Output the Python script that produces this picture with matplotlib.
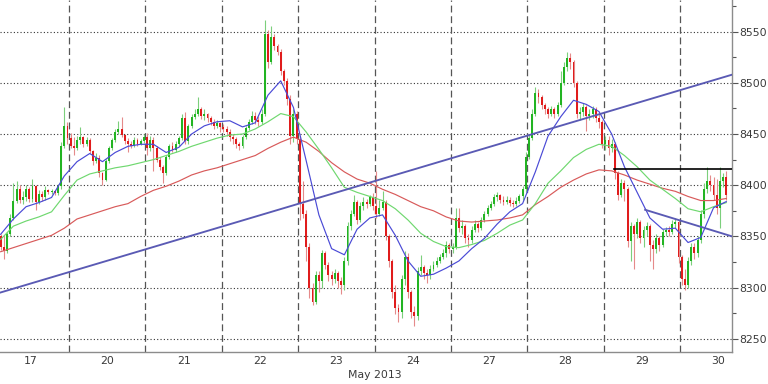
#!/usr/bin/env python3
# -*- coding: utf-8 -*-
"""
Hourly candlestick chart, May 2013, with three moving averages
and hand-drawn trend lines.
"""

import numpy as np
import matplotlib
matplotlib.use("Agg")
import matplotlib.pyplot as plt
from matplotlib.ticker import MultipleLocator
from matplotlib.transforms import blended_transform_factory

# hourly candles, 24 per day; the 17th is only partly on the chart (22 bars)
day_labels = ['17', '20', '21', '22', '23', '24', '27', '28', '29', '30']
bars_per_day = 24
bars_first_day = 22
first_open = 8350

closes = [
    # 17
    8340, 8336, 8352, 8368, 8385, 8396, 8386, 8388, 8396, 8387, 8399, 8384, 8391, 8388, 8395, 8393, 8394, 8392, 8399, 8438, 8458, 8446,
    # 20
    8438, 8436, 8444, 8447, 8440, 8444, 8433, 8424, 8427, 8412, 8405, 8424, 8436, 8444, 8452, 8455, 8449, 8443, 8440, 8438, 8444, 8440, 8443, 8447,
    # 21
    8436, 8444, 8436, 8425, 8418, 8412, 8428, 8438, 8434, 8440, 8446, 8466, 8443, 8458, 8467, 8470, 8474, 8468, 8470, 8466, 8462, 8458, 8461, 8457,
    # 22
    8455, 8452, 8447, 8445, 8440, 8438, 8447, 8456, 8462, 8468, 8464, 8462, 8470, 8548, 8520, 8545, 8536, 8530, 8512, 8502, 8484, 8448, 8470, 8445,
    # 23
    8382, 8372, 8340, 8300, 8286, 8312, 8306, 8334, 8322, 8312, 8308, 8314, 8306, 8302, 8326, 8360, 8372, 8384, 8366, 8380, 8384, 8382, 8388, 8380,
    # 24
    8372, 8378, 8384, 8350, 8326, 8296, 8280, 8276, 8308, 8330, 8296, 8276, 8272, 8316, 8320, 8314, 8312, 8318, 8322, 8326, 8330, 8334, 8342, 8338,
    # 27
    8340, 8368, 8358, 8360, 8348, 8346, 8356, 8362, 8358, 8366, 8372, 8378, 8382, 8388, 8390, 8386, 8384, 8386, 8383, 8382, 8385, 8389, 8396, 8428,
    # 28
    8446, 8470, 8490, 8486, 8478, 8474, 8470, 8474, 8470, 8478, 8500, 8516, 8524, 8520, 8500, 8470, 8472, 8476, 8468, 8470, 8474, 8466, 8462, 8440,
    # 29
    8444, 8436, 8440, 8412, 8390, 8402, 8396, 8345, 8360, 8352, 8364, 8348, 8356, 8360, 8342, 8338, 8348, 8342, 8354, 8356, 8354, 8362, 8364, 8330,
    # 30
    8308, 8302, 8326, 8340, 8334, 8346, 8372, 8396, 8404, 8400, 8390, 8378, 8404, 8408, 8390,
]

highs = [
    8352, 8351, 8354, 8372, 8402, 8404, 8400, 8394, 8400, 8398, 8406, 8400, 8395, 8394, 8399, 8396, 8396, 8395, 8401, 8442, 8476, 8462,
    8451, 8447, 8448, 8457, 8448, 8447, 8446, 8434, 8431, 8430, 8413, 8426, 8438, 8446, 8455, 8463, 8467, 8450, 8446, 8443, 8447, 8446, 8445, 8450,
    8451, 8448, 8447, 8438, 8428, 8420, 8430, 8440, 8442, 8443, 8448, 8470, 8472, 8460, 8470, 8474, 8486, 8476, 8474, 8471, 8468, 8465, 8464, 8462,
    8460, 8458, 8455, 8450, 8447, 8442, 8449, 8458, 8465, 8473, 8472, 8468, 8474, 8561, 8552, 8556, 8548, 8538, 8533, 8514, 8505, 8488, 8474, 8473,
    8448, 8404, 8376, 8344, 8304, 8316, 8316, 8337, 8336, 8325, 8316, 8318, 8316, 8310, 8330, 8364, 8376, 8390, 8386, 8384, 8388, 8387, 8390, 8392,
    8414, 8386, 8394, 8386, 8352, 8328, 8302, 8284, 8312, 8336, 8334, 8298, 8282, 8320, 8332, 8322, 8318, 8322, 8326, 8330, 8333, 8338, 8345, 8344,
    8344, 8378, 8378, 8366, 8362, 8352, 8360, 8366, 8364, 8369, 8375, 8381, 8385, 8391, 8393, 8391, 8389, 8389, 8388, 8386, 8388, 8391, 8399, 8432,
    8450, 8474, 8496, 8494, 8488, 8480, 8476, 8477, 8476, 8481, 8512, 8520, 8530, 8529, 8522, 8502, 8476, 8480, 8478, 8474, 8477, 8476, 8470, 8464,
    8448, 8448, 8445, 8442, 8414, 8406, 8405, 8398, 8364, 8362, 8368, 8366, 8360, 8364, 8362, 8346, 8352, 8350, 8357, 8359, 8360, 8366, 8368, 8366,
    8332, 8318, 8330, 8344, 8344, 8350, 8376, 8402, 8418, 8410, 8408, 8406, 8418, 8412, 8414,
]

lows = [
    8337, 8328, 8334, 8350, 8366, 8383, 8383, 8382, 8385, 8384, 8384, 8376, 8382, 8385, 8386, 8391, 8391, 8390, 8390, 8396, 8436, 8440,
    8436, 8430, 8434, 8440, 8437, 8438, 8431, 8420, 8422, 8408, 8400, 8404, 8422, 8434, 8442, 8450, 8447, 8440, 8432, 8436, 8437, 8438, 8439, 8441,
    8430, 8433, 8414, 8423, 8415, 8402, 8410, 8426, 8432, 8432, 8438, 8444, 8440, 8440, 8456, 8465, 8468, 8465, 8464, 8462, 8459, 8455, 8456, 8452,
    8452, 8448, 8443, 8440, 8436, 8434, 8436, 8445, 8454, 8460, 8460, 8458, 8460, 8468, 8515, 8518, 8532, 8527, 8508, 8498, 8478, 8440, 8442, 8440,
    8366, 8368, 8326, 8290, 8283, 8284, 8296, 8300, 8318, 8306, 8302, 8304, 8300, 8294, 8298, 8322, 8356, 8370, 8362, 8364, 8376, 8378, 8380, 8376,
    8368, 8370, 8376, 8346, 8320, 8290, 8274, 8266, 8270, 8302, 8290, 8270, 8262, 8268, 8312, 8308, 8304, 8308, 8316, 8320, 8324, 8328, 8330, 8334,
    8334, 8338, 8354, 8352, 8344, 8340, 8344, 8354, 8354, 8356, 8364, 8370, 8376, 8380, 8385, 8383, 8381, 8382, 8380, 8379, 8380, 8383, 8386, 8393,
    8426, 8444, 8468, 8480, 8474, 8470, 8466, 8468, 8466, 8468, 8476, 8498, 8512, 8514, 8496, 8466, 8464, 8468, 8453, 8464, 8466, 8462, 8456, 8436,
    8434, 8430, 8432, 8406, 8386, 8388, 8385, 8340, 8326, 8318, 8348, 8344, 8340, 8350, 8326, 8318, 8334, 8336, 8340, 8350, 8350, 8352, 8358, 8324,
    8302, 8298, 8300, 8322, 8328, 8330, 8344, 8368, 8392, 8394, 8386, 8372, 8358, 8398, 8386,
]

# moving averages, one value every 4 bars from the first bar
ma_step = 4
ma_fast = [8352, 8367, 8379, 8383, 8388, 8409, 8423, 8431, 8423, 8432, 8438, 8440, 8440, 8432, 8437, 8450,
           8458, 8462, 8463, 8457, 8461, 8488, 8502, 8476, 8424, 8371, 8338, 8332, 8357, 8368, 8371, 8351,
           8326, 8311, 8313, 8319, 8326, 8338, 8348, 8362, 8374, 8382, 8413, 8448, 8467, 8483, 8479, 8472,
           8450, 8418, 8393, 8368, 8357, 8358, 8344, 8349, 8378, 8384]
ma_mid = [8347, 8360, 8365, 8369, 8374, 8390, 8405, 8411, 8414, 8417, 8419, 8422, 8425, 8429, 8433, 8438,
          8442, 8446, 8449, 8450, 8455, 8462, 8470, 8467, 8452, 8435, 8417, 8398, 8393, 8389, 8385, 8377,
          8366, 8353, 8345, 8340, 8339, 8342, 8346, 8353, 8361, 8366, 8382, 8402, 8414, 8427, 8435, 8440,
          8438, 8429, 8418, 8405, 8396, 8387, 8377, 8374, 8379, 8383]
ma_slow = [8335, 8339, 8343, 8347, 8351, 8358, 8367, 8371, 8375, 8379, 8382, 8389, 8395, 8399, 8404, 8410,
           8414, 8417, 8421, 8425, 8429, 8436, 8442, 8447, 8442, 8433, 8422, 8413, 8406, 8402, 8396, 8391,
           8385, 8379, 8375, 8369, 8365, 8364, 8365, 8366, 8368, 8371, 8381, 8389, 8398, 8405, 8411, 8415,
           8414, 8410, 8405, 8401, 8397, 8394, 8389, 8385, 8385, 8387]

# drawn lines: bar positions (0 = first bar of the 20th) and prices
trend_long_x = [-22.2, 207.8]
trend_long_y = [8295, 8508]
trend_short_x = [180.5, 207.8]
trend_short_y = [8376, 8350]
resistance_x = [170.7, 207.8]
resistance_y = [8416, 8416]

GREEN = '#22b422'
RED = '#e01c1c'
GREEN_WICK = '#7ccf7c'
RED_WICK = '#e58a8a'


def draw_candles(ax, x, opens, highs, lows, closes, width=0.6):
    """Draw OHLC candles: thin wicks, solid bodies."""
    up = closes >= opens
    wick_col = np.where(up, GREEN_WICK, RED_WICK)
    body_col = np.where(up, GREEN, RED)
    ax.vlines(x, lows, highs, colors=wick_col, linewidth=0.8, zorder=2)
    bottom = np.minimum(opens, closes)
    height = np.maximum(np.abs(closes - opens), 0.8)
    ax.bar(x, height, width, bottom=bottom, color=body_col, linewidth=0, zorder=3)


def main():
    c = np.array(closes, dtype=float)
    h = np.array(highs, dtype=float)
    l = np.array(lows, dtype=float)
    o = np.concatenate([[first_open], c[:-1]])
    x = np.arange(len(c)) - bars_first_day

    fig = plt.figure(figsize=(7.68, 3.84), dpi=100)
    ax = fig.add_axes([0.0, 32 / 384, 732 / 768, 352 / 384])

    # day separators and horizontal grid
    n_days = len(day_labels)
    for k in range(n_days - 1):
        ax.axvline(k * bars_per_day - 0.5, color='#555555', linewidth=0.9,
                   linestyle=(0, (5.5, 3)), zorder=1)
    ax.yaxis.grid(True, color='#333333', linewidth=0.8, linestyle=(0, (1, 2)), zorder=1)
    ax.set_axisbelow(True)

    draw_candles(ax, x, o, h, l, c)

    ma_x = x[0] + ma_step * np.arange(len(ma_fast))
    ax.plot(ma_x, ma_slow, color='#d85a5a', linewidth=0.85, zorder=4)
    ax.plot(ma_x, ma_mid, color='#6fd86f', linewidth=0.85, zorder=4)
    ax.plot(ma_x, ma_fast, color='#4a4ad6', linewidth=0.85, zorder=5)

    ax.plot(trend_long_x, trend_long_y, color='#5a5ab4', linewidth=1.35, zorder=6)
    ax.plot(trend_short_x, trend_short_y, color='#5a5ab4', linewidth=1.35, zorder=6)
    ax.plot(resistance_x, resistance_y, color='black', linewidth=1.2, zorder=6)

    ax.set_xlim(-22.2, 207.8)
    ax.set_ylim(8237, 8581)

    # right-hand price axis
    ax.yaxis.tick_right()
    ax.yaxis.set_major_locator(MultipleLocator(50))
    ax.yaxis.set_minor_locator(MultipleLocator(25))
    ax.tick_params(axis='y', which='major', length=4, width=0.8, color='#555555',
                   pad=1.5, labelsize=7.8, labelcolor='#3a3a3a')
    ax.tick_params(axis='y', which='minor', length=3, width=0.8, color='#555555')

    # day labels centred on each day
    centers = np.arange(-1, n_days - 1) * bars_per_day + bars_per_day / 2 - 0.5
    ax.set_xticks(centers)
    ax.set_xticklabels(day_labels)
    ax.tick_params(axis='x', length=0, pad=3, labelsize=7.8, labelcolor='#3a3a3a')

    trans = blended_transform_factory(ax.transData, ax.transAxes)
    ax.text(4 * bars_per_day - 0.5, -0.052, 'May 2013', transform=trans,
            ha='center', va='top', fontsize=7.8, color='#3a3a3a')

    for side in ('left', 'top'):
        ax.spines[side].set_visible(False)
    for side in ('right', 'bottom'):
        ax.spines[side].set_color('#8c8c8c')
        ax.spines[side].set_linewidth(1.0)

    fig.savefig('out.png', dpi=100, facecolor='white')
    plt.close(fig)


if __name__ == "__main__":
    main()
